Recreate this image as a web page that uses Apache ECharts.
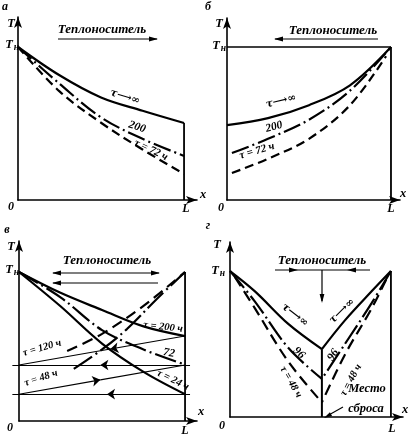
<!DOCTYPE html>
<html><head><meta charset="utf-8">
<script src="https://cdn.jsdelivr.net/npm/echarts@6/dist/echarts.min.js"></script>
<style>html,body{margin:0;padding:0;background:#fff}#c{width:410px;height:438px}</style>
</head><body><div id="c"></div>
<script>
// ---------- DATA (normalised: x 0..L = 0..1, T 0..Tн = 0..1) ----------
// Panel а
const aX    = [0, 0.25, 0.5, 0.75, 1];
const aInf  = [1, 0.815, 0.67, 0.583, 0.503];
const a200  = [1, 0.76, 0.54, 0.40, 0.288];
const a72   = [1, 0.71, 0.505, 0.33, 0.17];
// Panel б
const bX    = [0, 0.25, 0.5, 0.75, 1];
const bInf  = [0.49, 0.535, 0.62, 0.75, 1];
const b200X = [0.03, 0.25, 0.5, 0.75, 1];
const b200  = [0.307, 0.40, 0.525, 0.715, 1];
const b72X  = [0.03, 0.25, 0.5, 0.75, 0.97];
const b72   = [0.176, 0.27, 0.40, 0.62, 0.94];
// Panel в
const vX    = [0, 0.25, 0.5, 0.75, 1];
const v200  = [1, 0.86, 0.745, 0.635, 0.57];
const v72   = [1, 0.83, 0.61, 0.48, 0.378];
const v24   = [1, 0.77, 0.52, 0.33, 0.18];
const v120X = [0.29, 0.5, 0.75, 1];
const v120  = [0.47, 0.585, 0.773, 1];
const v48X  = [0.33, 0.5, 0.65, 0.83, 1];
const v48   = [0.35, 0.48, 0.617, 0.819, 1];
// flow (thin) lines of panel в: from, to, x of arrow head (points toward "to")
const vFlowFrom   = [[1, 0.57], [1.03, 0.376], [0, 0.18], [1.03, 0.18]];
const vFlowTo     = [[0, 0.376], [-0.04, 0.376], [1, 0.376], [-0.04, 0.18]];
const vFlowArrowX = [0.55, 0.49, 0.49, 0.53];
// Panel г
const gMid   = 0.571;
const gLX    = [0, 0.155, 0.362, 0.571];
const gLInf  = [1, 0.861, 0.638, 0.465];
const gL96   = [1, 0.791, 0.474, 0.261];
const gL48X  = [0.03, 0.155, 0.362, 0.571];
const gL48   = [0.96, 0.744, 0.38, 0.10];
const gRX    = [1, 0.88, 0.714, 0.571];
const gRInf  = [1, 0.861, 0.662, 0.465];
const gR96   = [1, 0.78, 0.50, 0.261];
const gR48X  = [0.97, 0.88, 0.714, 0.571];
const gR48   = [0.94, 0.744, 0.427, 0.10];

// ---------- LAYOUT ----------
const LAY = [
  {left: 18,  top: 17,  width: 179, height: 183, xmax: 1.078, ymax: 1.196},
  {left: 227, top: 18,  width: 173, height: 182, xmax: 1.055, ymax: 1.19},
  {left: 19,  top: 241, width: 178, height: 180, xmax: 1.072, ymax: 1.208},
  {left: 230, top: 242, width: 173, height: 175, xmax: 1.075, ymax: 1.199}
];
const SOLID = 'solid', DASH = [9, 5], DASHDOT = [18, 4, 2, 4], DASHDOT2 = [22, 4, 2, 4], DASHL = [11, 6];
const FONT = '"Liberation Serif", "DejaVu Serif", serif';
const FONT2 = '"DejaVu Serif", serif';
const INF = 'τ\u27f6∞';

const zip = (xs, ys) => xs.map((x, i) => [x, ys[i]]);
function curve(gi, pts, type, w) {
  return {type: 'line', xAxisIndex: gi, yAxisIndex: gi, data: pts, showSymbol: false, symbol: 'none',
    smooth: 0.35, clip: false, silent: true, animation: false,
    lineStyle: {color: '#000', width: w || 2.2, type: type}};
}
function straight(gi, pts, w) {
  return {type: 'line', xAxisIndex: gi, yAxisIndex: gi, data: pts, showSymbol: false, symbol: 'none',
    clip: false, silent: true, animation: false, lineStyle: {color: '#000', width: w || 2}};
}

const series = [
  // а
  curve(0, zip(aX, aInf), SOLID),
  curve(0, zip(aX, a200), DASHDOT),
  curve(0, zip(aX, a72), DASH),
  straight(0, [[1, aInf[aInf.length - 1]], [1, 0]], 1.8),
  // б
  straight(1, [[0, 1], [1, 1]], 1.6),
  straight(1, [[1, 1], [1, 0]], 1.8),
  curve(1, zip(bX, bInf), SOLID),
  curve(1, zip(b200X, b200), DASHDOT),
  curve(1, zip(b72X, b72), DASH),
  // в
  straight(2, [[1, 1], [1, 0]], 1.8),
  curve(2, zip(vX, v200), SOLID),
  curve(2, zip(vX, v72), DASHDOT2),
  curve(2, zip(vX, v24), SOLID),
  curve(2, zip(v120X, v120), DASHL),
  curve(2, zip(v48X, v48), DASHDOT2),
  // г
  curve(3, zip(gLX, gLInf), SOLID),
  curve(3, zip(gLX, gL96), DASHDOT2),
  curve(3, zip(gL48X, gL48), DASHL),
  curve(3, zip(gRX, gRInf), SOLID),
  curve(3, zip(gRX, gR96), DASHDOT2),
  curve(3, zip(gR48X, gR48), DASHL),
  straight(3, [[gMid, gLInf[gLInf.length - 1]], [gMid, 0]], 2),
  straight(3, [[1, 1], [1, 0]], 1.8)
];

// flow lines with mid arrows (panel в)
const flowArrowSeg = [], flowPlainSeg = [];
vFlowFrom.forEach((p, i) => {
  const q = vFlowTo[i];
  const t = (vFlowArrowX[i] - p[0]) / (q[0] - p[0]);
  const m = [p[0] + t * (q[0] - p[0]), p[1] + t * (q[1] - p[1])];
  flowArrowSeg.push({coords: [p, m]});
  flowPlainSeg.push({coords: [m, q]});
});
series.push({type: 'lines', coordinateSystem: 'cartesian2d', xAxisIndex: 2, yAxisIndex: 2, clip: false,
  silent: true, animation: false, symbol: ['none', 'arrow'], symbolSize: 8,
  lineStyle: {color: '#000', width: 1.1, opacity: 1}, data: flowArrowSeg});
series.push({type: 'lines', coordinateSystem: 'cartesian2d', xAxisIndex: 2, yAxisIndex: 2, clip: false,
  silent: true, animation: false, symbol: 'none',
  lineStyle: {color: '#000', width: 1.1, opacity: 1}, data: flowPlainSeg});

// ---------- AXES ----------
const axisCommon = {type: 'value', min: 0, splitLine: {show: false}, axisTick: {show: false}, axisLabel: {show: false},
  axisLine: {show: true, onZero: true, lineStyle: {color: '#000', width: 1.6}, symbol: ['none', 'arrow'], symbolSize: [6, 11]}};
const grid = LAY.map(g => ({left: g.left, top: g.top, width: g.width, height: g.height}));
const xAxis = LAY.map((g, i) => Object.assign({}, axisCommon, {gridIndex: i, max: g.xmax}));
const yAxis = LAY.map((g, i) => Object.assign({}, axisCommon, {gridIndex: i, max: g.ymax}));

// ---------- TEXT & ANNOTATION ARROWS ----------
const G = [];
function txt(x, y, s, size, rot, fam) {
  G.push({type: 'text', x: x, y: y, rotation: (rot || 0) * Math.PI / 180, silent: true, z: 100,
    style: {text: s, x: 0, y: 0, fill: '#000', fontFamily: fam || FONT, fontSize: size, fontStyle: 'italic',
      fontWeight: 'bold', align: 'center', verticalAlign: 'middle'}});
}
function tn(x, y) { txt(x, y, 'T', 12.5); txt(x + 7.5, y + 3, 'н', 9.5); }
function seg(x1, y1, x2, y2, w) {
  G.push({type: 'line', silent: true, z: 90, shape: {x1, y1, x2, y2}, style: {stroke: '#000', lineWidth: w || 1.2}});
}
function head(tx, ty, dx, dy, len, wid) {
  len = len || 9; wid = wid || 2.4;
  const n = Math.hypot(dx, dy); dx /= n; dy /= n;
  const bx = tx - dx * len, by = ty - dy * len;
  G.push({type: 'polygon', silent: true, z: 91,
    shape: {points: [[tx, ty], [bx - dy * wid, by + dx * wid], [bx + dy * wid, by - dx * wid]]}, style: {fill: '#000'}});
}

// panel letters
txt(5, 7, 'а', 12); txt(208, 7, 'б', 12); txt(7, 230, 'в', 12); txt(208, 226, 'г', 12);
// axis labels
txt(11, 24, 'T', 12.5); tn(9, 45); txt(11, 207, '0', 12); txt(186, 209, 'L', 12); txt(203, 195, 'x', 12.5);
txt(219, 24, 'T', 12.5); tn(216, 46); txt(221, 208, '0', 12); txt(391, 209, 'L', 12); txt(403, 194, 'x', 12.5);
txt(11, 247, 'T', 12.5); tn(9, 270); txt(10, 428, '0', 12); txt(185, 431, 'L', 12); txt(201, 412, 'x', 12.5);
txt(217, 245, 'T', 12.5); tn(215, 271); txt(222, 426, '0', 12); txt(392, 429, 'L', 12); txt(405, 410, 'x', 12.5);

// Теплоноситель
txt(102, 30, 'Теплоноситель', 13);
seg(58, 39, 157, 39); head(158, 39, 1, 0);
txt(333, 31, 'Теплоноситель', 13);
seg(275, 39, 378, 39); head(274, 39, -1, 0);
txt(107, 261, 'Теплоноситель', 13);
seg(53, 273, 159, 273); head(52, 273, -1, 0); head(160, 273, 1, 0);
seg(53, 283, 158, 283); head(52, 283, -1, 0);
txt(322, 261, 'Теплоноситель', 13);
seg(275, 270, 370, 270); head(298, 270, 1, 0); head(347, 270, -1, 0);
seg(322, 270, 322, 301); head(322, 303, 0, 1);

// curve labels
txt(125, 97, INF, 10.5, -17, FONT2);
txt(137, 127, '200', 11.5, -17);
txt(151, 150, 'τ = 72 ч', 11, -26);

txt(281, 101, INF, 10.5, 14, FONT2);
txt(274, 127, '200', 11.5, 15);
txt(257, 151, 'τ = 72 ч', 11, 16);

txt(163, 327, 'τ = 200 ч', 10.5, -6);
txt(169, 353, '72', 11.5, -10);
txt(173, 380, 'τ = 24 ч', 10.5, -26);
txt(42, 348, 'τ = 120 ч', 10.5, 16);
txt(41, 378, 'τ = 48 ч', 10.5, 18);

txt(295, 315, INF, 10.5, -38, FONT2);
txt(299, 353, '96', 11.5, -42);
txt(291, 382, 'τ = 48 ч', 10.5, -60);
txt(342, 311, INF, 10.5, 45, FONT2);
txt(333, 355, '96', 11.5, 55);
txt(351, 380, 'τ = 48 ч', 10.5, 62);

txt(367, 389, 'Место', 12.5);
txt(366, 409, 'сброса', 12.5);
seg(343, 407, 327, 416, 1.1); head(324, 418, -16, 9, 8, 2.2);

const chart = echarts.init(document.getElementById('c'), null, {renderer: 'canvas', width: 410, height: 438});
chart.setOption({animation: false, backgroundColor: '#fff', grid, xAxis, yAxis, series, graphic: G});
</script></body></html>
